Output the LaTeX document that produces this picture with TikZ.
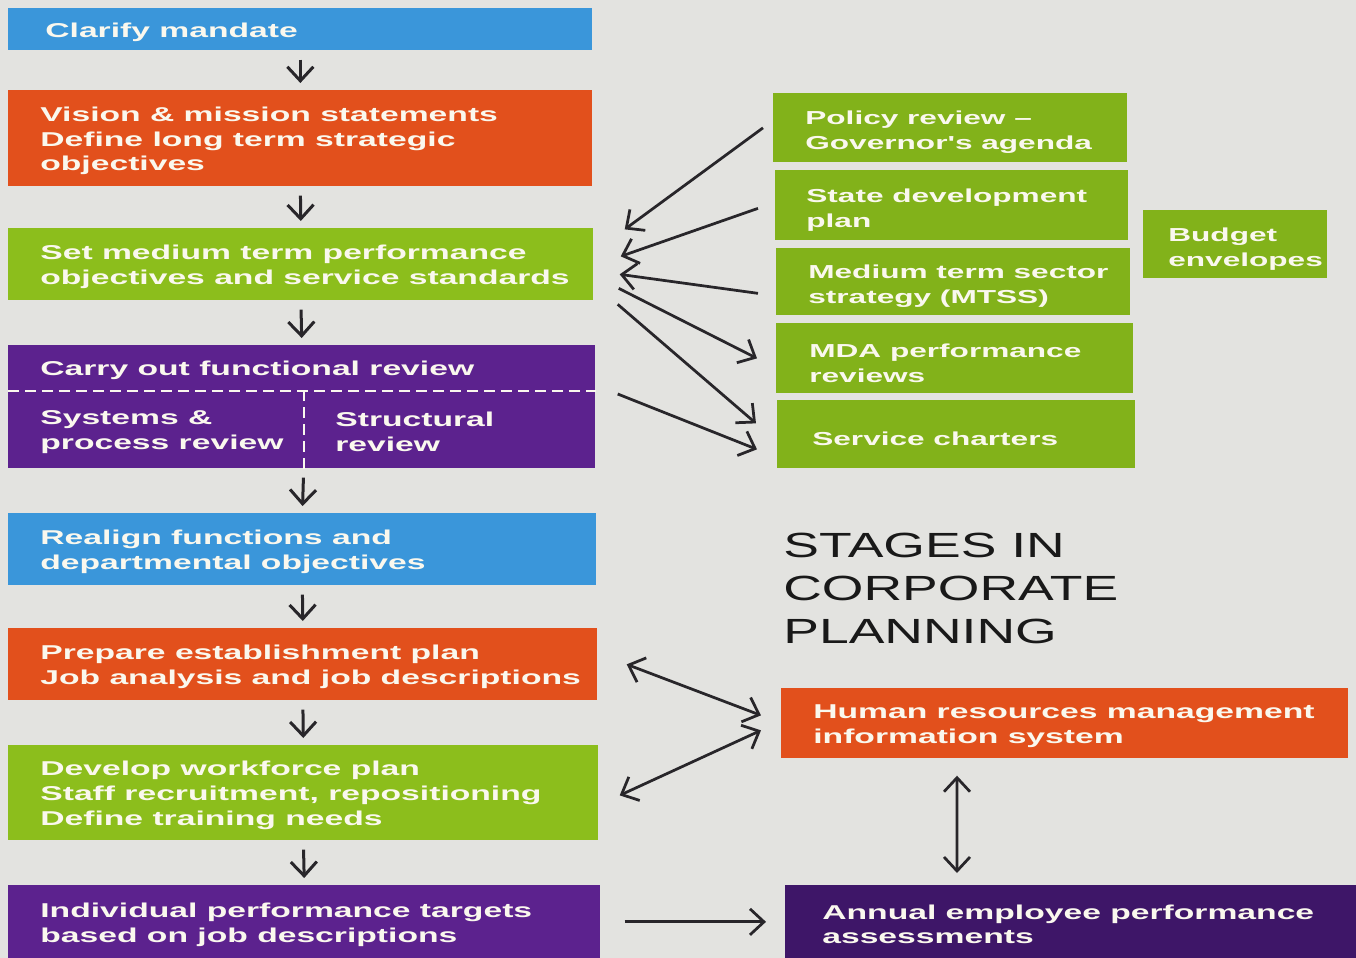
\documentclass[tikz,border=0pt]{standalone}
\usepackage{fontspec}
\usetikzlibrary{arrows.meta, positioning}
\newfontfamily\stagefont[FakeStretch=1.68]{Liberation Sans}
\newfontfamily\titlefont[FakeStretch=1.53]{Liberation Sans}
\definecolor{bgrey}{RGB}{227,227,224}
\definecolor{sblue}{RGB}{58,150,218}
\definecolor{sorange}{RGB}{226,80,28}
\definecolor{sgreen}{RGB}{140,190,28}
\definecolor{dgreen}{RGB}{130,178,26}
\definecolor{spurple}{RGB}{92,34,142}
\definecolor{dpurple}{RGB}{62,22,104}
\definecolor{arrgrey}{RGB}{40,38,42}
\definecolor{txtwhite}{RGB}{250,248,238}

\begin{document}
\begin{tikzpicture}[
    stage/.style={anchor=north west, inner sep=0pt},
    stagetext/.style={inner sep=0pt, align=left, text=txtwhite, yshift=-0.05cm,
      font=\stagefont\bfseries\fontsize{11.4}{14.2}\selectfont},
    sidetext/.style={stagetext, yshift=-0.04cm,
      font=\stagefont\bfseries\fontsize{10.7}{14.2}\selectfont},
    tip/.style={-{Straight Barb[length=0.28cm,width=0.52cm]}},
    twotips/.style={{Straight Barb[length=0.28cm,width=0.52cm]}-{Straight Barb[length=0.28cm,width=0.52cm]}},
    down/.style={tip, line width=0.06cm, draw=arrgrey, shorten <=0.18cm, shorten >=0.14cm},
    link/.style={line width=0.055cm, draw=arrgrey},
    split/.style={txtwhite, line width=0.035cm, dash pattern=on 0.22cm off 0.12cm}
  ]
  \fill[bgrey] (0,0) rectangle (27.12,-19.16);
  \useasboundingbox (0,0) rectangle (27.12,-19.16);

  \node[stage, fill=sblue, minimum width=11.68cm, minimum height=0.84cm] (clar) at (0.16,-0.16) {};
  \node[stagetext, right=0.74cm of clar.west] (clart) {Clarify mandate};
  \node[stage, fill=sorange, minimum width=11.68cm, minimum height=1.92cm] (vis) at (0.16,-1.80) {};
  \node[stagetext, right=0.64cm of vis.west] (vist) {Vision \& mission statements\\Define long term strategic\\objectives};
  \node[stage, fill=sgreen, minimum width=11.70cm, minimum height=1.44cm] (med) at (0.16,-4.56) {};
  \node[stagetext, right=0.64cm of med.west] (medt) {Set medium term performance\\objectives and service standards};
  \node[stage, fill=spurple, minimum width=11.74cm, minimum height=0.90cm] (fun) at (0.16,-6.90) {};
  \node[stagetext, right=0.64cm of fun.west] (funt) {Carry out functional review};
  \node[stage, fill=spurple, minimum width=5.90cm, minimum height=1.56cm] (sys) at (0.16,-7.80) {};
  \node[stagetext, right=0.64cm of sys.west] (syst) {Systems \&\\process review};
  \node[stage, fill=spurple, minimum width=5.84cm, minimum height=1.56cm] (str) at (6.06,-7.80) {};
  \node[stagetext, right=0.64cm of str.west] (strt) {Structural\\review};
  \draw[split] (fun.south west) -- (fun.south east);
  \draw[split] (sys.north east) -- (sys.south east);
  \node[stage, fill=sblue, minimum width=11.76cm, minimum height=1.44cm] (real) at (0.16,-10.26) {};
  \node[stagetext, right=0.64cm of real.west] (realt) {Realign functions and\\departmental objectives};
  \node[stage, fill=sorange, minimum width=11.78cm, minimum height=1.44cm] (est) at (0.16,-12.56) {};
  \node[stagetext, right=0.64cm of est.west] (estt) {Prepare establishment plan\\Job analysis and job descriptions};
  \node[stage, fill=sgreen, minimum width=11.80cm, minimum height=1.90cm] (wfp) at (0.16,-14.90) {};
  \node[stagetext, right=0.64cm of wfp.west] (wfpt) {Develop workforce plan\\Staff recruitment, repositioning\\Define training needs};
  \node[stage, fill=spurple, minimum width=11.84cm, minimum height=1.46cm] (ind) at (0.16,-17.70) {};
  \node[stagetext, right=0.64cm of ind.west] (indt) {Individual performance targets\\based on job descriptions};

  \node[stage, fill=dgreen, minimum width=7.08cm, minimum height=1.38cm] (pol) at (15.46,-1.86) {};
  \node[sidetext, right=0.64cm of pol.west] (polt) {Policy review –\\Governor's agenda};
  \node[stage, fill=dgreen, minimum width=7.06cm, minimum height=1.40cm] (sdp) at (15.50,-3.40) {};
  \node[sidetext, right=0.62cm of sdp.west] (sdpt) {State development\\plan};
  \node[stage, fill=dgreen, minimum width=7.08cm, minimum height=1.34cm] (mtss) at (15.52,-4.96) {};
  \node[sidetext, right=0.64cm of mtss.west] (mtsst) {Medium term sector\\strategy (MTSS)};
  \node[stage, fill=dgreen, minimum width=7.14cm, minimum height=1.40cm] (mda) at (15.52,-6.46) {};
  \node[sidetext, right=0.66cm of mda.west] (mdat) {MDA performance\\reviews};
  \node[stage, fill=dgreen, minimum width=7.16cm, minimum height=1.36cm] (chart) at (15.54,-8.00) {};
  \node[sidetext, right=0.70cm of chart.west] (chartt) {Service charters};
  \node[stage, fill=dgreen, minimum width=3.68cm, minimum height=1.36cm] (bud) at (22.86,-4.20) {};
  \node[sidetext, right=0.50cm of bud.west] (budt) {Budget\\envelopes};

  \node[anchor=north west, align=left, inner sep=0pt, text=black!90,
    font=\titlefont\fontsize{19.9}{24.5}\selectfont] (title) at (15.66,-10.66) {STAGES IN\\CORPORATE\\PLANNING};

  \node[stage, fill=sorange, minimum width=11.34cm, minimum height=1.40cm] (hrm) at (15.62,-13.76) {};
  \node[stagetext, right=0.64cm of hrm.west] (hrmt) {Human resources management\\information system};
  \node[stage, fill=dpurple, minimum width=11.42cm, minimum height=1.46cm] (ann) at (15.70,-17.70) {};
  \node[stagetext, right=0.74cm of ann.west] (annt) {Annual employee performance\\assessments};

  \draw[down] (clar.south) -- (vis.north);
  \draw[down] (vis.south) -- (med.north);
  \draw[down] (med.south) -- (fun.north);
  \draw[down] (sys.south east) -- (real.north);
  \draw[down] (real.south) -- (est.north);
  \draw[down] (est.south) -- (wfp.north);
  \draw[down] (wfp.south) -- (ind.north);

  \draw[link, tip] ([xshift=-0.2cm]pol.west) -- ([xshift=0.62cm,yshift=0.70cm]med.east);
  \draw[link, tip] ([xshift=-0.34cm,yshift=-0.06cm]sdp.west) -- ([xshift=0.54cm,yshift=0.16cm]med.east);
  \draw[link, tip] ([xshift=-0.36cm,yshift=-0.23cm]mtss.west) -- ([xshift=0.52cm,yshift=-0.20cm]med.east);
  \draw[link, tip] ([xshift=0.50cm,yshift=-0.48cm]med.east) -- ([xshift=-0.38cm]mda.west);
  \draw[link, tip] ([xshift=0.48cm,yshift=-0.80cm]med.east) -- ([xshift=-0.42cm,yshift=0.22cm]chart.west);
  \draw[link, tip] ([xshift=0.44cm,yshift=-0.08cm]str.north east) -- ([xshift=-0.40cm,yshift=-0.30cm]chart.west);

  \draw[link, twotips] ([xshift=0.58cm]est.east) -- ([xshift=-0.40cm,yshift=0.16cm]hrm.west);
  \draw[link, twotips] ([xshift=0.42cm,yshift=-0.05cm]wfp.east) -- ([xshift=-0.40cm,yshift=-0.14cm]hrm.west);
  \draw[link, twotips] ([xshift=3.52cm,yshift=-0.34cm]hrm.south west) -- ([xshift=3.44cm,yshift=0.24cm]ann.north west);
  \draw[link, tip] ([xshift=0.48cm]ind.east) -- ([xshift=-0.38cm]ann.west);
\end{tikzpicture}
\end{document}
